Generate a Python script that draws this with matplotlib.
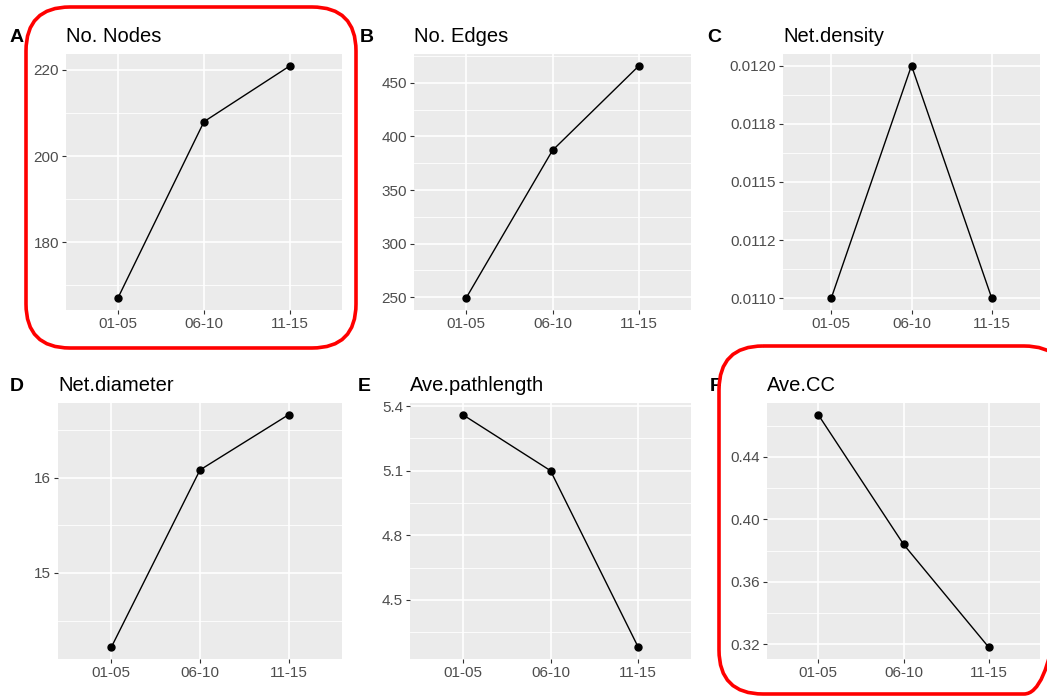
import matplotlib
matplotlib.use("Agg")
import matplotlib.pyplot as plt
from matplotlib.patches import FancyBboxPatch

plt.rcParams['font.family'] = ['Liberation Sans', 'DejaVu Sans']

# 数据
periods = ["01-05", "06-10", "11-15"]
n_nodes = [167, 208, 221]
n_edges = [249, 387, 466]
net_density = [0.0110, 0.0120, 0.0110]
net_diameter = [14.22, 16.08, 16.66]
ave_pathlength = [5.36, 5.10, 4.28]
ave_cc = [0.467, 0.384, 0.318]

titles = ["No. Nodes", "No. Edges", "Net.density",
          "Net.diameter", "Ave.pathlength", "Ave.CC"]
letters = ["A", "B", "C", "D", "E", "F"]

yticks_a = [180, 200, 220]
yticks_b = [250, 300, 350, 400, 450]
yticks_c = [0.011, 0.01125, 0.0115, 0.01175, 0.012]
ylabels_c = ["0.0110", "0.0112", "0.0115", "0.0118", "0.0120"]
yticks_d = [15, 16]
yticks_e = [4.5, 4.8, 5.1, 5.4]
yticks_f = [0.32, 0.36, 0.40, 0.44]

W, H = 1047, 697
fig = plt.figure(figsize=(W / 100, H / 100), dpi=100)
fig.patch.set_facecolor("white")

# 面板位置 (像素: 左, 上, 右, 下)
boxes = [(66, 54, 342, 310), (414, 54, 691, 310), (783, 54, 1040, 310),
         (58, 403, 342, 659), (410, 403, 691, 659), (767, 403, 1040, 659)]
letter_x = [10, 360, 707, 10, 358, 710]
series = [n_nodes, n_edges, net_density, net_diameter, ave_pathlength, ave_cc]
ticks = [yticks_a, yticks_b, yticks_c, yticks_d, yticks_e, yticks_f]
labels = [None, None, ylabels_c, None, None, None]


def gg_panel(ax, values, major, lab):
    lo, hi = min(values), max(values)
    pad = (hi - lo) * 0.05
    ax.set_ylim(lo - pad, hi + pad)
    ax.set_xlim(-0.6, len(periods) - 0.4)
    ax.set_facecolor("#EBEBEB")
    step = major[1] - major[0]
    minors = [major[0] - step / 2 + i * step for i in range(len(major) + 1)]
    minors = [m for m in minors if lo - pad <= m <= hi + pad]
    for m in minors:
        ax.axhline(m, color="white", lw=0.6, zorder=0)
    for t in major:
        ax.axhline(t, color="white", lw=1.2, zorder=0)
    for i in range(len(periods)):
        ax.axvline(i, color="white", lw=1.2, zorder=0)
    ax.plot(range(len(periods)), values, color="black", lw=1.0,
            marker="o", ms=5, zorder=3)
    ax.set_yticks(major)
    if lab is not None:
        ax.set_yticklabels(lab)
    ax.set_xticks(range(len(periods)))
    ax.set_xticklabels(periods)
    ax.tick_params(length=3, width=0.8, color="#333333",
                   labelcolor="#4D4D4D", labelsize=11, pad=2)
    for s in ax.spines.values():
        s.set_visible(False)


for i in range(6):
    l, t, r, b = boxes[i]
    ax = fig.add_axes([l / W, 1 - b / H, (r - l) / W, (b - t) / H])
    gg_panel(ax, series[i], ticks[i], labels[i])
    base = 42 if i < 3 else 391
    fig.text(l / W, 1 - base / H, titles[i], fontsize=14.5, va="baseline")
    fig.text(letter_x[i] / W, 1 - base / H, letters[i], fontsize=14,
             fontweight="bold", va="baseline")

# 红色圆角框
over = fig.add_axes([0, 0, 1, 1], zorder=10)
over.set_xlim(0, W)
over.set_ylim(H, 0)
over.axis("off")
over.patch.set_alpha(0)
for x0, y0, x1, y1 in [(26, 7, 356, 348), (719, 346, 1068, 694)]:
    over.add_patch(FancyBboxPatch((x0, y0), x1 - x0, y1 - y0,
                                  boxstyle="round,pad=0,rounding_size=44",
                                  fill=False, ec="#FF0000", lw=2.6,
                                  clip_on=False))

fig.savefig("out.png", dpi=100)
